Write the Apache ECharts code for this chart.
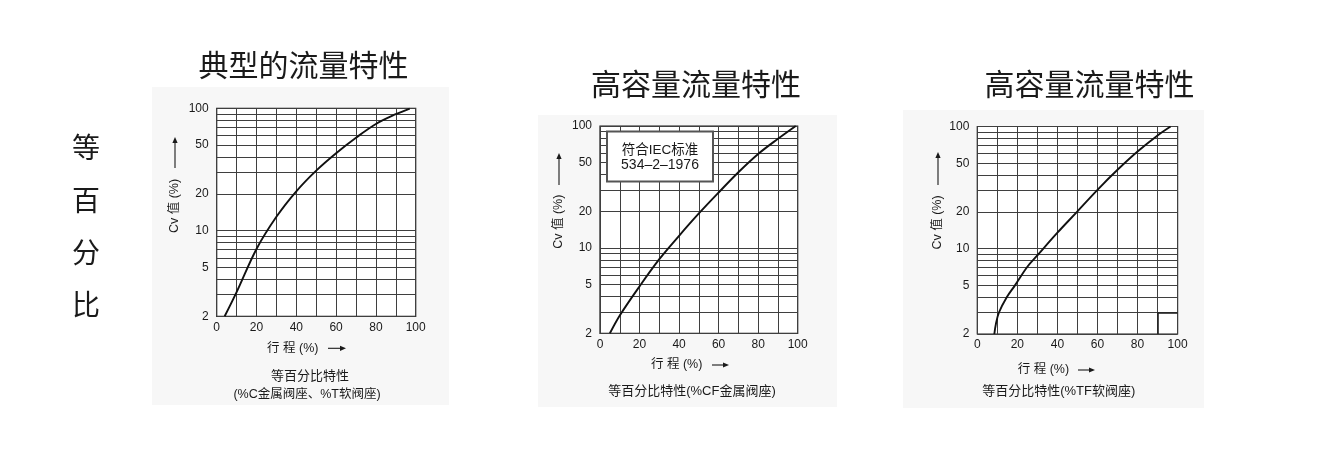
<!DOCTYPE html>
<html><head><meta charset="utf-8">
<script src="https://cdn.jsdelivr.net/npm/echarts@6/dist/echarts.min.js"></script>
<style>html,body{margin:0;padding:0;background:#fff}#c{width:1320px;height:456px}</style>
</head><body><div id="c"></div>
<script>
// ---- data ----
const xLabels = [0, 20, 40, 60, 80, 100];
const yGrid = [2, 3, 4, 5, 6, 7, 8, 9, 10, 20, 30, 40, 50, 60, 70, 80, 90, 100];
const yLabels = [2, 5, 10, 20, 50, 100];

const travel1 = [4, 10, 20, 30, 40, 50, 60, 70, 80, 90, 97];
const cv1 = [2, 3.15, 7.1, 13, 21, 31, 43, 57.5, 74.5, 89.5, 99.5];

const travel2 = [5, 10, 20, 30, 40, 50, 60, 70, 80, 90, 99];
const cv2 = [2, 2.8, 4.85, 8.1, 12.6, 19.2, 28.5, 41.8, 59, 78.5, 100];

const travel3 = [8.5, 9.3, 10.8, 14.7, 18.8, 25, 30, 40, 50, 60, 70, 80, 90, 96.5];
const cv3 = [2, 2.42, 3, 4, 5, 7.1, 8.8, 13.5, 20.2, 30.3, 44.2, 62.4, 84.5, 100];

const titles = ['典型的流量特性', '高容量流量特性', '高容量流量特性'];
const sideText = ['等', '百', '分', '比'];
const yTitle = 'Cv 值 (%)';
const xTitle = '行 程 (%)';
const captions = [['等百分比特性', '(%C金属阀座、%T软阀座)'], ['等百分比特性(%CF金属阀座)'], ['等百分比特性(%TF软阀座)']];
const boxText = ['符合IEC标准', '534–2–1976'];

// ---- layout ----
const FF = "'Liberation Sans','Noto Sans CJK SC',sans-serif";
const CJK = "'Noto Sans CJK SC',sans-serif";
const TXT = '#1a1a1a';
const GRIDC = '#3f3f3f';
const grids = [
  {left: 216.7, top: 108.3, width: 199, height: 208},
  {left: 600, top: 126, width: 197.7, height: 207.3},
  {left: 977.3, top: 126.5, width: 200.3, height: 207.5}
];
const seriesData = [[travel1, cv1], [travel2, cv2], [travel3, cv3]];

const chart = echarts.init(document.getElementById('c'), null, {renderer: 'canvas'});

const xAxes = [], yAxes = [], series = [];
grids.forEach((g, i) => {
  xAxes.push({
    gridIndex: i, type: 'value', min: 0, max: 100, interval: 10,
    axisLine: {show: false}, axisTick: {show: false},
    axisLabel: {margin: 5, fontSize: 12, color: TXT, fontFamily: FF,
      formatter: v => xLabels.includes(v) ? String(v) : ''},
    splitLine: {show: true, lineStyle: {color: GRIDC, width: 1}}
  });
  yAxes.push({
    gridIndex: i, type: 'log', logBase: 10, min: 2, max: 100,
    axisLine: {show: false}, axisTick: {show: false},
    axisLabel: {show: false}, splitLine: {show: false}
  });
  const [tx, cv] = seriesData[i];
  const ml = yGrid.map(v => ({
    yAxis: v,
    label: yLabels.includes(v)
      ? {show: true, position: 'start', distance: 8, formatter: String(v), fontSize: 12, color: TXT, fontFamily: FF}
      : {show: false}
  }));
  if (i === 2) {
    ml.push([{coord: [90, 3], label: {show: false}, lineStyle: {color: '#222', width: 1.6, type: 'solid'}}, {coord: [100, 3]}]);
    ml.push([{coord: [90, 2], label: {show: false}, lineStyle: {color: '#222', width: 1.6, type: 'solid'}}, {coord: [90, 3]}]);
  }
  series.push({
    type: 'line', xAxisIndex: i, yAxisIndex: i,
    data: tx.map((t, k) => [t, cv[k]]),
    smooth: 0.35, symbol: 'none', z: 3,
    lineStyle: {color: '#111', width: 1.9},
    markLine: {
      silent: true, symbol: ['none', 'none'], z: 1, animation: false,
      lineStyle: {type: 'solid', color: GRIDC, width: 1},
      label: {show: false},
      data: ml
    }
  });
});

// ---- graphics ----
const graphic = [];
const panels = [[152, 87, 297, 318], [538, 115, 299, 292], [903, 110, 301, 298]];
panels.forEach(p => graphic.push({type: 'rect', z: -10, silent: true,
  shape: {x: p[0], y: p[1], width: p[2], height: p[3]}, style: {fill: '#f7f7f7'}}));

function text(x, y, s, size, family, weight) {
  graphic.push({type: 'text', x: x, y: y, silent: true, z: 20,
    style: {text: s, fontSize: size, fill: TXT, fontFamily: family || FF, fontWeight: weight || 'normal', align: 'center', verticalAlign: 'middle'}});
}
function arrow(x1, y1, x2, y2) {
  const dx = x2 - x1, dy = y2 - y1, L = Math.hypot(dx, dy), ux = dx / L, uy = dy / L;
  const hl = 6, hw = 2.6;
  const bx = x2 - ux * hl, by = y2 - uy * hl;
  graphic.push({type: 'line', silent: true, z: 20, shape: {x1: x1, y1: y1, x2: bx, y2: by}, style: {stroke: TXT, lineWidth: 1.1}});
  graphic.push({type: 'polygon', silent: true, z: 20,
    shape: {points: [[x2, y2], [bx - uy * hw, by + ux * hw], [bx + uy * hw, by - ux * hw]]}, style: {fill: TXT}});
}

// side label
[147, 200, 252, 304].forEach((y, k) => text(86, y, sideText[k], 28, CJK, 'normal'));

// titles
[[303.5, 64.5], [696, 83.5], [1089.5, 83.5]].forEach((p, i) => text(p[0], p[1], titles[i], 30, CJK, 'normal'));

// y titles (rotated) + arrows
[[175, 206, 168, 137], [559, 221.7, 185, 153], [938, 222.5, 185, 152]].forEach(p => {
  graphic.push({type: 'text', x: p[0], y: p[1], rotation: Math.PI / 2, silent: true, z: 20,
    style: {text: yTitle, fontSize: 12.5, fill: TXT, fontFamily: FF, align: 'center', verticalAlign: 'middle'}});
  arrow(p[0], p[2], p[0], p[3]);
});

// x titles + arrows
[[292.8, 348.3, 328, 346], [676.7, 365, 712, 729], [1043.4, 370, 1078, 1095]].forEach(p => {
  text(p[0], p[1], xTitle, 12.5);
  arrow(p[2], p[1], p[3], p[1]);
});

// captions
text(310, 376, captions[0][0], 13);
text(307, 394.3, captions[0][1], 12.5);
text(692, 391.7, captions[1][0], 13);
text(1058.7, 391.7, captions[2][0], 13);

// IEC box
graphic.push({type: 'rect', silent: true, z: 15, shape: {x: 607, y: 131.5, width: 106, height: 50},
  style: {fill: '#fff', stroke: '#555', lineWidth: 2}});
text(660, 150, boxText[0], 13.5);
text(660, 164.7, boxText[1], 14);

chart.setOption({
  animation: false,
  backgroundColor: '#fff',
  grid: grids.map(g => Object.assign({show: true, backgroundColor: '#fff', borderColor: '#1a1a1a', borderWidth: 1.2, containLabel: false, outerBoundsMode: 'none'}, g)),
  xAxis: xAxes,
  yAxis: yAxes,
  series: series,
  graphic: graphic
});
</script></body></html>
